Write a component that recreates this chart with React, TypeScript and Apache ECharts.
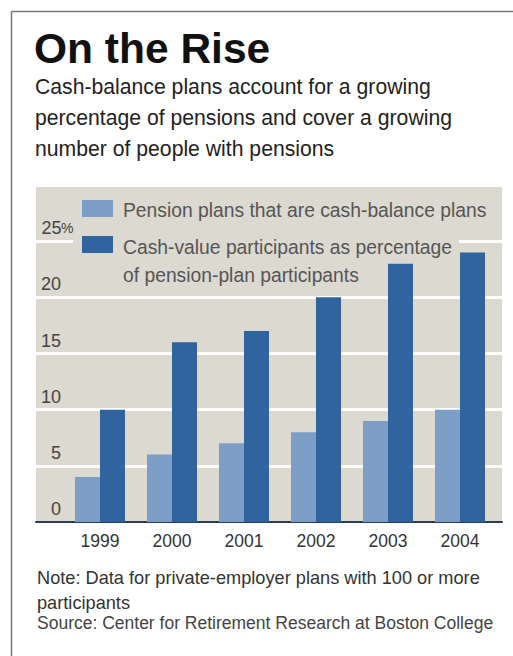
import React, { useEffect, useRef } from 'react';
import * as echarts from 'echarts';

const categories = ['1999', '2000', '2001', '2002', '2003', '2004'];
const planShare = [4, 6, 7, 8, 9, 10];
const participantShare = [10, 16, 17, 20, 23, 24];
const seriesNames = [
  'Pension plans that are cash-balance plans',
  'Cash-value participants as percentage\nof pension-plan participants',
];
const titleText = 'On the Rise';
const subtitleText =
  'Cash-balance plans account for a growing\npercentage of pensions and cover a growing\nnumber of people with pensions';
const noteText = 'Note: Data for private-employer plans with 100 or more\nparticipants';
const sourceText = 'Source: Center for Retirement Research at Boston College';

const LIGHT = '#7b9dc6';
const DARK = '#2f649f';
const BG = '#dcd9d1';
const sans = '"Liberation Sans", Arial, sans-serif';

export default function App() {
  const ref = useRef<HTMLDivElement>(null);
  useEffect(() => {
    const chart = echarts.init(ref.current!, null, { renderer: 'svg' });
    chart.setOption({
      animation: false,
      backgroundColor: '#ffffff',
      grid: [
        { left: 36, right: 11, top: 185, bottom: 134, show: true, backgroundColor: BG, borderWidth: 0, containLabel: false },
        { left: 64, right: 17, top: 185, bottom: 134, containLabel: false },
      ],
      xAxis: [
        {
          gridIndex: 0, type: 'value', min: 0, max: 1, position: 'bottom',
          axisLine: { show: true, onZero: false, lineStyle: { color: '#2e3d4d', width: 2 } },
          axisTick: { show: false }, axisLabel: { show: false }, splitLine: { show: false },
        },
        {
          gridIndex: 1, type: 'category', data: categories,
          axisLine: { show: false }, axisTick: { show: false },
          axisLabel: { color: '#333', fontFamily: sans, fontSize: 17.5, margin: 10 },
        },
      ],
      yAxis: [
        {
          gridIndex: 0, type: 'value', min: 0, max: 30, interval: 5,
          axisLine: { show: false }, axisTick: { show: false },
          splitLine: { show: true, lineStyle: { color: '#ffffff', width: 3 } },
          axisLabel: {
            inside: true, margin: 6, align: 'left', verticalAlign: 'bottom',
            padding: [0, 0, 4, 0],
            fontFamily: sans, fontSize: 18, color: '#444',
            formatter: (v: number) => (v === 30 ? '' : v === 25 ? `{d|${v}}{p|%}` : `{d|${v}}`),
            rich: {
              d: { width: 19, align: 'right', fontFamily: sans, fontSize: 18, color: '#444' },
              p: { fontFamily: sans, fontSize: 14, color: '#444' },
            },
          },
        },
        { gridIndex: 1, type: 'value', min: 0, max: 30, show: false },
      ],
      series: [
        {
          type: 'bar', name: seriesNames[0], xAxisIndex: 1, yAxisIndex: 1, data: planShare,
          barWidth: 25, barGap: '0%', itemStyle: { color: LIGHT },
        },
        {
          type: 'bar', name: seriesNames[1], xAxisIndex: 1, yAxisIndex: 1, data: participantShare,
          barWidth: 25, barGap: '0%', itemStyle: { color: DARK },
        },
      ],
      graphic: [
        { type: 'line', shape: { x1: 11.5, y1: 11.5, x2: 513, y2: 11.5 }, style: { stroke: '#777', lineWidth: 1.5 } },
        { type: 'line', shape: { x1: 11.5, y1: 11.5, x2: 11.5, y2: 656 }, style: { stroke: '#777', lineWidth: 1.5 } },
        {
          type: 'text', x: 34, y: 48, z: 10,
          style: { text: titleText, fontFamily: sans, fontWeight: 'bold', fontSize: 42.5, fill: '#111', verticalAlign: 'middle' },
        },
        {
          type: 'text', x: 35, y: 71, z: 10,
          style: { text: subtitleText, fontFamily: sans, fontSize: 21.2, lineHeight: 31, fill: '#222', verticalAlign: 'top' },
        },
        { type: 'rect', z: 10, shape: { x: 73, y: 232, width: 386, height: 20 }, style: { fill: BG } },
        { type: 'rect', z: 11, shape: { x: 82, y: 200, width: 31, height: 17 }, style: { fill: LIGHT } },
        { type: 'rect', z: 11, shape: { x: 82, y: 236, width: 31, height: 17 }, style: { fill: DARK } },
        {
          type: 'text', x: 123, y: 210, z: 11,
          style: { text: seriesNames[0], fontFamily: sans, fontSize: 19.3, fill: '#555', verticalAlign: 'middle' },
        },
        {
          type: 'text', x: 123, y: 233, z: 11,
          style: { text: seriesNames[1], fontFamily: sans, fontSize: 19.3, lineHeight: 28, fill: '#555', verticalAlign: 'top' },
        },
        {
          type: 'text', x: 37, y: 565, z: 10,
          style: { text: noteText, fontFamily: sans, fontSize: 18.2, lineHeight: 25, fill: '#333', verticalAlign: 'top' },
        },
        {
          type: 'text', x: 37, y: 614, z: 10,
          style: { text: sourceText, fontFamily: sans, fontSize: 17.5, fill: '#444', verticalAlign: 'top' },
        },
      ],
    });
    return () => chart.dispose();
  }, []);
  return <div ref={ref} style={{ position: 'fixed', left: 0, top: 0, width: 513, height: 656 }} />;
}
